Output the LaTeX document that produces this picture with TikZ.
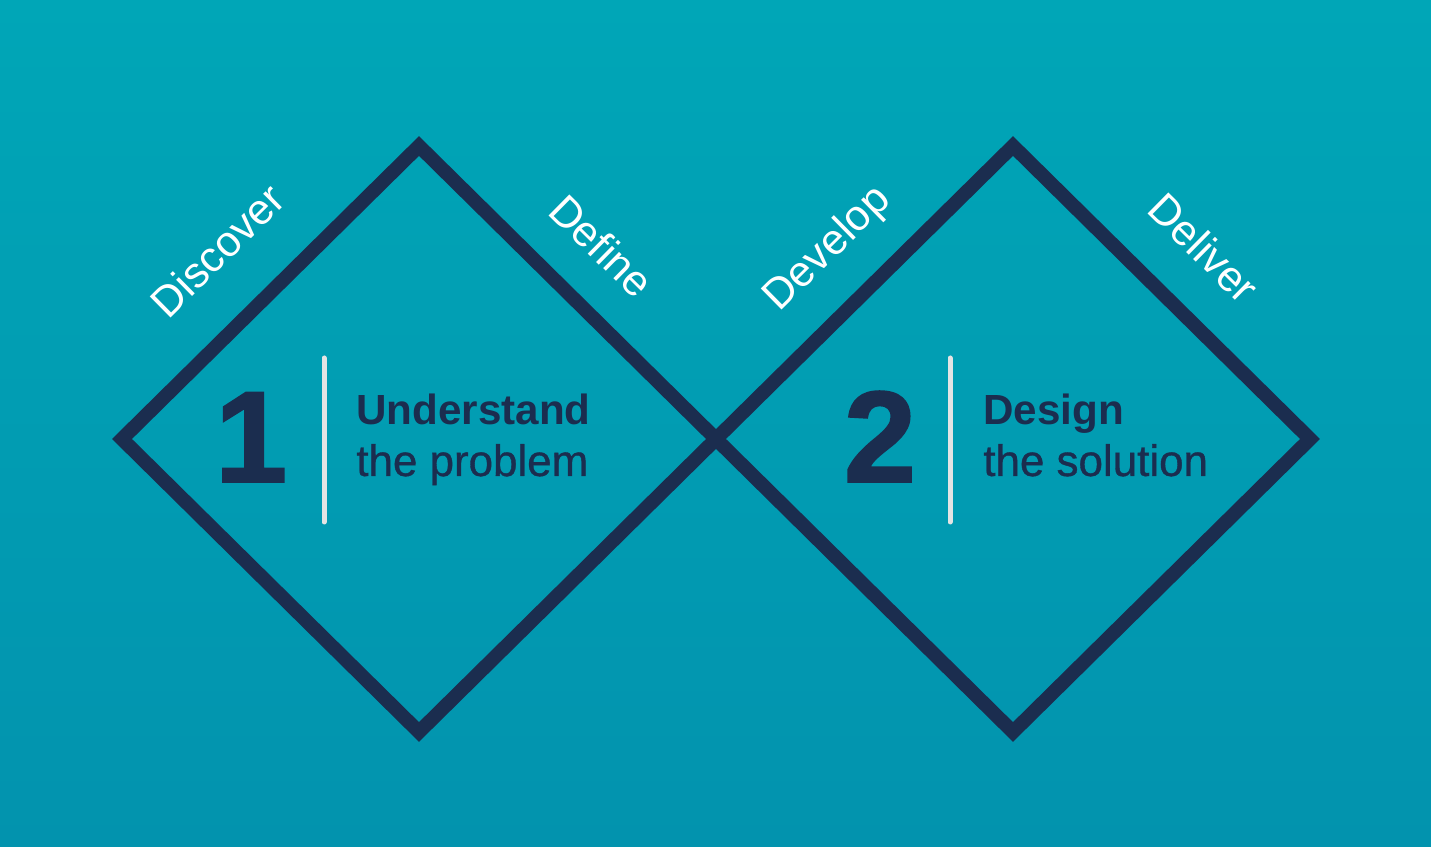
\documentclass[tikz,border=0pt]{standalone}
\usepackage{fontspec}
\setmainfont{Liberation Sans}
\newfontfamily\mediumfont[FakeBold=0.8]{Liberation Sans}
\newfontfamily\heavyfont[FakeBold=1.5]{Liberation Sans}
\usetikzlibrary{positioning}
\definecolor{bgtop}{HTML}{00A6B7}
\definecolor{bgmid}{HTML}{00A1B5}
\definecolor{bgbot}{HTML}{0293AE}
\definecolor{navy}{HTML}{1B2D4F}
\definecolor{barcol}{HTML}{E4E4E4}
\tikzset{
  phase/.style={sloped, text=white, font=\fontsize{24.5}{28}\selectfont, inner sep=0pt, text depth=0pt},
  bignum/.style={text=navy, font=\fontsize{74}{80}\selectfont\heavyfont\bfseries, inner sep=0pt, anchor=base},
  headline/.style={text=navy, font=\fontsize{24}{28}\selectfont\bfseries, inner sep=0pt, anchor=base west},
  subline/.style={text=navy, font=\fontsize{25}{29}\selectfont\mediumfont, inner sep=0pt, anchor=base west},
  outline/.style={draw=navy, line width=0.28cm, line join=miter},
  divider/.style={draw=barcol, line width=0.1cm, line cap=round}
}
\begin{document}
\begin{tikzpicture}[x=0.02cm, y=0.02cm]
	\shade[top color=bgtop, middle color=bgmid, bottom color=bgbot] (0, 0) rectangle (1431, 847);
	% first diamond
	\coordinate (L1) at (122, 408);
	\coordinate (T1) at (419, 701);
	\coordinate (R1) at (716, 408);
	\coordinate (B1) at (419, 115);
	\draw[outline] (L1) -- (T1) node[phase, pos=0.48, above=0.9cm] (discover) {Discover}
		-- (R1) node[phase, pos=0.48, above=0.7cm] (define) {Define} -- (B1) -- cycle;
	% second diamond
	\coordinate (T2) at (1013, 701);
	\coordinate (R2) at (1310, 408);
	\coordinate (B2) at (1013, 115);
	\draw[outline] (R1) -- (T2) node[phase, pos=0.51, above=0.76cm] (develop) {Develop}
		-- (R2) node[phase, pos=0.497, above=0.78cm] (deliver) {Deliver} -- (B2) -- cycle;
	% dividers
	\coordinate (bar1a) at (324, 489);
	\coordinate (bar1b) at (324, 325);
	\draw[divider] (bar1a) -- (bar1b);
	\coordinate (bar2a) at (950, 489);
	\coordinate (bar2b) at (950, 325);
	\draw[divider] (bar2a) -- (bar2b);
	% texts
	\node[bignum] (one) at (251, 365) {1};
	\node[bignum] (two) at (880, 365) {2};
	\node[headline] (und) at (356, 422) {Understand};
	\node[subline, below=1.02cm of und.base west, anchor=base west] (prob) {the problem};
	\node[headline] (des) at (983, 422) {Design};
	\node[subline, below=1.02cm of des.base west, anchor=base west] (sol) {the solution};
\end{tikzpicture}
\end{document}
